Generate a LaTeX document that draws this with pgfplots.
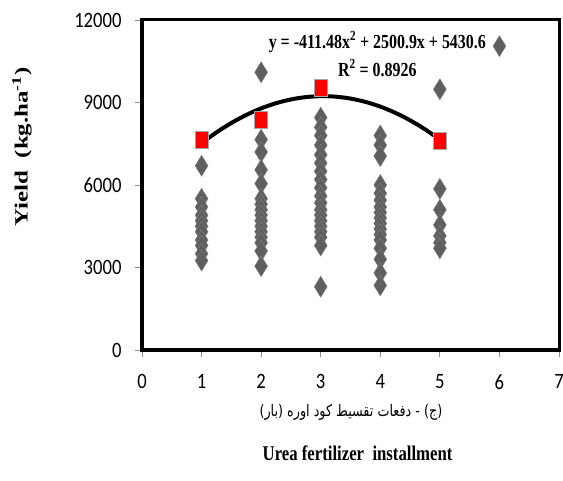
\documentclass[border=0pt]{standalone}
\usepackage{pgfplots}
\pgfplotsset{compat=1.18}
\usepackage{fontspec}
\TeXXeTstate=1
\setmainfont{Liberation Serif}
\newfontfamily\tickfont[FakeStretch=0.85]{Carlito}
\newfontfamily\serifc[FakeStretch=0.8]{Liberation Serif}
\newfontfamily\arabicfont[Script=Arabic,FakeStretch=0.8]{DejaVu Sans}
\definecolor{dia}{HTML}{5F5F5F}
\definecolor{diaedge}{HTML}{808080}
\definecolor{sqedge}{HTML}{A6A6A6}
\begin{document}
\begin{tikzpicture}
\path[use as bounding box] (0,0) rectangle (563bp,481bp);
\begin{axis}[
  at={(142bp,131bp)}, anchor=south west,
  scale only axis, width=417bp, height=330bp,
  xmin=0, xmax=7, ymin=0, ymax=12000,
  xtick={0,1,...,7}, ytick={0,3000,6000,9000,12000},
  scaled y ticks=false,
  /pgf/number format/1000 sep={},
  /pgf/number format/assume math mode=true,
  tick label style={font=\tickfont\fontsize{22}{22}\selectfont},
  yticklabel style={xshift=-10bp},
  xticklabel style={yshift=-14bp},
  xtick pos=lower, ytick pos=left,
  tick align=outside, major tick length=7bp,
  tick style={color=black!45, line width=0.8pt},
  axis line style={black, line width=3bp},
  clip=false,
  ylabel={\scalebox{1}[0.75]{\bfseries\fontsize{25}{25}\selectfont Yield\ \ (kg.ha\textsuperscript{-1})}},
  ylabel style={at={(rel axis cs:-0.288,0.615)}, anchor=center},
]
% individual observations
\addplot[only marks, mark=diamond*, mark size=10.5bp,
  mark options={xscale=0.82, fill=dia, draw=diaedge, line width=0.4pt}]
  coordinates {
  (1,6700) (1,5500) (1,5200) (1,4900) (1,4700) (1,4500) (1,4300) (1,4000) (1,3800) (1,3500) (1,3250)
  (2,10100) (2,7650) (2,7200) (2,6550) (2,6050) (2,5500) (2,5300) (2,5100) (2,4900) (2,4700) (2,4500) (2,4300) (2,4100) (2,3900) (2,3600) (2,3050)
  (3,8450) (3,8100) (3,7800) (3,7450) (3,7100) (3,6800) (3,6500) (3,6200) (3,5900) (3,5600) (3,5350) (3,5100) (3,4900) (3,4700) (3,4500) (3,4300) (3,4100) (3,3800) (3,2300)
  (4,7800) (4,7450) (4,7050) (4,6000) (4,5700) (4,5450) (4,5200) (4,5000) (4,4800) (4,4600) (4,4400) (4,4200) (4,4000) (4,3700) (4,3300) (4,2800) (4,2350)
  (5,9480) (5,5860) (5,5100) (5,4550) (5,4150) (5,3900) (5,3700)
  (6,11050)
  };
% means
\addplot[only marks, mark=square*, mark size=8.5bp,
  mark options={xscale=0.76, fill=red, draw=sqedge, line width=1pt}]
  coordinates {(1,7650) (2,8380) (3,9530) (5,7600)};
% polynomial trendline (tabulated)
\addplot[black, line width=4bp, smooth, no marks] coordinates {
  (1,7520.02) (1.25,7913.79) (1.5,8256.12) (1.75,8547.02) (2,8786.48)
  (2.25,8974.51) (2.5,9111.10) (2.75,9196.26) (3,9229.98) (3.25,9212.27)
  (3.5,9143.12) (3.75,9022.54) (4,8850.52) (4.25,8627.07) (4.5,8352.18)
  (4.75,8025.86) (5,7648.10)};
\node[font=\serifc\bfseries\fontsize{20}{20}\selectfont] at (axis cs:3.95,11200)
  {y = -411.48x\textsuperscript{2} + 2500.9x + 5430.6};
\node[font=\serifc\bfseries\fontsize{20}{20}\selectfont] at (axis cs:3.95,10250)
  {R\textsuperscript{2} = 0.8926};
\node[font=\arabicfont\fontsize{16}{16}\selectfont] at (rel axis cs:0.501,-0.188)
  {\beginR(ج) - دفعات تقسيط کود اوره (بار)\endR};
\node[font=\serifc\bfseries\fontsize{21}{21}\selectfont] at (rel axis cs:0.517,-0.312)
  {Urea fertilizer\ \ installment};
\end{axis}
\end{tikzpicture}
\end{document}
